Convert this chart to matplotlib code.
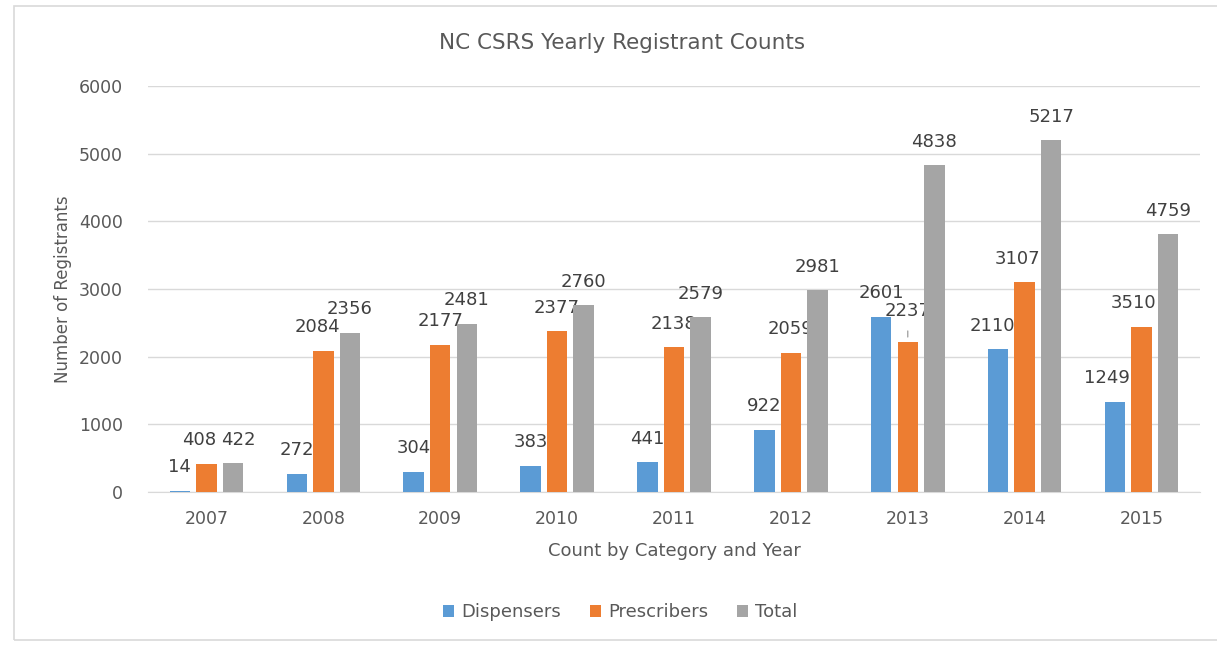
import numpy as np
import matplotlib.pyplot as plt
from matplotlib.patches import Rectangle

plt.rcParams['font.family'] = ['DejaVu Sans']
plt.rcParams['text.color'] = '#595959'

years = ['2007', '2008', '2009', '2010', '2011', '2012', '2013', '2014', '2015']
series = ['Dispensers', 'Prescribers', 'Total']
# bar heights as drawn
dispensers = [14, 266, 300, 383, 441, 922, 2590, 2108, 1334]
prescribers = [414, 2084, 2177, 2377, 2138, 2059, 2220, 3097, 2442]
total = [422, 2356, 2481, 2760, 2579, 2981, 4830, 5200, 3807]
# printed data labels (not always equal to bar height in the source)
disp_labels = [14, 272, 304, 383, 441, 922, 2601, 2110, 1249]
presc_labels = [408, 2084, 2177, 2377, 2138, 2059, 2237, 3107, 3510]
total_labels = [422, 2356, 2481, 2760, 2579, 2981, 4838, 5217, 4759]

colors = ['#5B9BD5', '#ED7D31', '#A5A5A5']

fig = plt.figure(figsize=(12.17, 6.47), dpi=100)
ax = fig.add_axes([0.1216, 0.2396, 0.8644, 0.6275])

fig.patches.append(Rectangle((0.0115, 0.011), 0.99, 0.98, transform=fig.transFigure,
                             fill=False, edgecolor='#D9D9D9', lw=1.2))

# small sideways nudges (points) Excel used to keep labels apart
nudge = {('Prescribers', 0): -5, ('Total', 0): 4, ('Prescribers', 1): -4,
         ('Dispensers', 7): -4, ('Prescribers', 7): -5,
         ('Dispensers', 8): -6, ('Prescribers', 8): -6}

x = np.arange(len(years))
step = 0.227
width = 0.175
heights = [dispensers, prescribers, total]
labels = [disp_labels, presc_labels, total_labels]
for i, (h, lab, name, c) in enumerate(zip(heights, labels, series, colors)):
    xs = x + (i - 1) * step
    ax.bar(xs, h, width=width, color=c, label=name, zorder=3)
    for j, (xi, hi, li) in enumerate(zip(xs, h, lab)):
        extra = 0
        if name == 'Prescribers' and li == 2237:
            extra = 5
            ax.annotate('', xy=(xi, hi + 30), xytext=(xi, hi + 200),
                        arrowprops=dict(arrowstyle='-', color='#A6A6A6', lw=1))
        ax.annotate(str(li), (xi, hi), xytext=(nudge.get((name, j), 0), 17 + extra),
                    textcoords='offset points', ha='center', va='center',
                    fontsize=13, color='#404040')

ax.set_xlim(-0.5, len(years) - 0.5)
ax.set_ylim(0, 6000)
ax.set_yticks(np.arange(0, 6001, 1000))
ax.set_xticks(x)
ax.set_xticklabels(years)
ax.yaxis.grid(True, color='#D9D9D9', lw=1, zorder=0)
for s in ['top', 'right', 'left']:
    ax.spines[s].set_visible(False)
ax.spines['bottom'].set_color('#D9D9D9')
ax.tick_params(axis='both', length=0, labelsize=12.5, colors='#595959')
ax.tick_params(axis='y', pad=18)
ax.tick_params(axis='x', pad=13)

ax.set_xlabel('Count by Category and Year', fontsize=13, color='#595959', labelpad=10)
ax.set_ylabel('Number of Registrants', fontsize=12, color='#595959', labelpad=5)
fig.text(0.511, 0.934, 'NC CSRS Yearly Registrant Counts', ha='center', va='center',
         fontsize=15.5, color='#595959')

ax.legend(loc='center', bbox_to_anchor=(0.449, -0.296), ncol=3, frameon=False,
          fontsize=13, handlelength=0.6, handleheight=0.6, columnspacing=1.6,
          handletextpad=0.4, labelcolor='#595959')

fig.savefig('out.png', dpi=100)
